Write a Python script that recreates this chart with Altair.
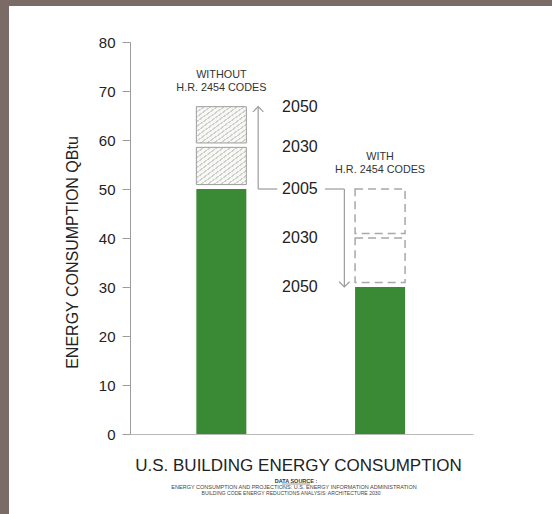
import altair as alt
import pandas as pd

# ---- data ----
scenarios = ["WITHOUT\nH.R. 2454 CODES", "WITH\nH.R. 2454 CODES"]
years = ["2005", "2030", "2050"]
without_codes = [50, 58.5, 66.8]   # QBtu
with_codes = [50, 40, 30]          # QBtu
title_text = "U.S. BUILDING ENERGY CONSUMPTION"
source_head = "DATA SOURCE :"
source_lines = [
    "ENERGY CONSUMPTION AND PROJECTIONS: U.S. ENERGY INFORMATION ADMINISTRATION",
    "BUILDING CODE ENERGY REDUCTIONS ANALYSIS: ARCHITECTURE 2030",
]

# ---- layout / style constants ----
W, H = 343, 392
GAP = 0.9
GREEN = "#3a8a35"
GREY = "#9c9c9c"
FONT = "Liberation Sans"
BAR_POS = [1, 2]
ARROW1_X, LABEL_X, ARROW2_X = 1.232, 1.495, 1.775
SEG_L_END, SEG_R_START = 1.353, 1.653

xs = alt.Scale(domain=[0.456, 2.554], nice=False, zero=False)
ys = alt.Scale(domain=[0, 80], nice=False)

# green (current / achieved) bars
green = pd.DataFrame({
    "pos": BAR_POS,
    "lo": [0, 0],
    "hi": [without_codes[0], with_codes[-1]],
})
# hatched growth boxes (without codes)
hatch = pd.DataFrame({
    "pos": [BAR_POS[0]] * 2,
    "lo": [without_codes[i - 1] + GAP for i in (1, 2)],
    "hi": [without_codes[i] for i in (1, 2)],
})
# dashed saved boxes (with codes)
dashed = pd.DataFrame({
    "pos": [BAR_POS[1]] * 2,
    "lo": [with_codes[i] + GAP for i in (1, 2)],
    "hi": [with_codes[i - 1] for i in (1, 2)],
})

# hatch pattern emulated with a striped linear gradient
N = 15
stops = []
for i in range(N):
    a = i / N
    b = (i + 0.3) / N
    c = (i + 1) / N
    stops += [
        alt.GradientStop(color="#cdd0c8", offset=a),
        alt.GradientStop(color="#cdd0c8", offset=b),
        alt.GradientStop(color="#f7f8f5", offset=b),
        alt.GradientStop(color="#f7f8f5", offset=c),
    ]
hatch_fill = alt.LinearGradient(gradient="linear", stops=stops, x1=0, y1=0, x2=1, y2=1)

frame = alt.Chart(pd.DataFrame({"a": [0]})).mark_rect(color="white", clip=False).encode(
    x=alt.value(-121), x2=alt.value(W + 79), y=alt.value(-36), y2=alt.value(H + 80)
)

base_axis_y = alt.Axis(
    values=list(range(0, 81, 10)), title="ENERGY CONSUMPTION QBtu",
    labelFontSize=15, labelColor="#222", labelFont=FONT, labelPadding=7,
    tickSize=8, tickColor=GREY, domainColor=GREY, grid=False, zindex=1,
    titleFontSize=16, titleFont=FONT, titleFontWeight="normal", titleColor="#222",
    titleAngle=270, titleX=-58, titleY=210, titleAlign="center", titleBaseline="middle",
)
base_axis_x = alt.Axis(labels=False, ticks=False, domain=True, domainColor="#b8b8b8",
                       grid=False, title=None, zindex=1)

green_bars = alt.Chart(green).mark_bar(size=50, color=GREEN).encode(
    x=alt.X("pos:Q", scale=xs, axis=base_axis_x),
    y=alt.Y("lo:Q", scale=ys, axis=base_axis_y),
    y2="hi:Q",
)
hatch_bars = alt.Chart(hatch).mark_bar(size=50, fill=hatch_fill, stroke=GREY, strokeWidth=1).encode(
    x=alt.X("pos:Q", scale=xs), y=alt.Y("lo:Q", scale=ys), y2="hi:Q"
)
dashed_bars = alt.Chart(dashed).mark_bar(
    size=50, fill="white", stroke="#a8a8a8", strokeWidth=1.5, strokeDash=[8, 5]
).encode(x=alt.X("pos:Q", scale=xs), y=alt.Y("lo:Q", scale=ys), y2="hi:Q")

# arrows
segs = pd.DataFrame({
    "x": [ARROW1_X, ARROW1_X, SEG_R_START, ARROW2_X],
    "x2": [ARROW1_X, SEG_L_END, ARROW2_X, ARROW2_X],
    "y": [without_codes[0], without_codes[0], with_codes[0], with_codes[0]],
    "y2": [without_codes[-1], without_codes[0], with_codes[0], with_codes[-1]],
})
arrow_lines = alt.Chart(segs).mark_rule(color=GREY, strokeWidth=1.2).encode(
    x=alt.X("x:Q", scale=xs), x2="x2:Q", y=alt.Y("y:Q", scale=ys), y2="y2:Q"
)
up_head = alt.Chart(pd.DataFrame({"x": [ARROW1_X], "y": [without_codes[-1]]})).mark_point(
    shape="M-1,1L0,0L1,1", filled=False, size=110, color=GREY, strokeWidth=1.2, opacity=1
).encode(x=alt.X("x:Q", scale=xs), y=alt.Y("y:Q", scale=ys))
down_head = alt.Chart(pd.DataFrame({"x": [ARROW2_X], "y": [with_codes[-1]]})).mark_point(
    shape="M-1,-1L0,0L1,-1", filled=False, size=110, color=GREY, strokeWidth=1.2, opacity=1
).encode(x=alt.X("x:Q", scale=xs), y=alt.Y("y:Q", scale=ys))

# year labels
lab = pd.DataFrame({
    "year": years[::-1] + years[1:],
    "v": without_codes[::-1] + with_codes[1:],
})
lab["x"] = LABEL_X
year_text = alt.Chart(lab).mark_text(font=FONT, fontSize=16, color="#222", baseline="middle").encode(
    x=alt.X("x:Q", scale=xs), y=alt.Y("v:Q", scale=ys), text="year:N"
)

# scenario labels
sc = pd.DataFrame({"pos": BAR_POS, "name": scenarios, "top": [without_codes[-1], with_codes[0]]})
scen_text = alt.Chart(sc).mark_text(
    font=FONT, fontSize=10.8, color="#333", lineBreak="\n", baseline="bottom", dy=-27, lineHeight=13
).encode(x=alt.X("pos:Q", scale=xs), y=alt.Y("top:Q", scale=ys), text="name:N")

# title and source
one = pd.DataFrame({"a": [0]})
title_mark = alt.Chart(one).mark_text(
    font=FONT, fontSize=17, color="#222", baseline="middle", text=title_text, clip=False
).encode(x=alt.value(168.5), y=alt.value(H + 32))
head_mark = alt.Chart(one).mark_text(
    font=FONT, fontSize=5.5, fontWeight="bold", color="#333", baseline="middle", text=source_head
).encode(x=alt.value(166), y=alt.value(H + 47))
head_line = alt.Chart(one).mark_rule(color="#555", strokeWidth=0.6).encode(
    x=alt.value(152), x2=alt.value(180), y=alt.value(H + 50)
)
src1 = alt.Chart(one).mark_text(
    font=FONT, fontSize=5.5, color="#444", baseline="middle", text=source_lines[0]
).encode(x=alt.value(164), y=alt.value(H + 53))
src2 = alt.Chart(one).mark_text(
    font=FONT, fontSize=5.1, color="#444", baseline="middle", text=source_lines[1]
).encode(x=alt.value(161), y=alt.value(H + 59))

chart = alt.layer(
    frame, green_bars, hatch_bars, dashed_bars, arrow_lines, up_head, down_head,
    year_text, scen_text, title_mark, head_mark, head_line, src1, src2
).properties(
    width=W, height=H,
    padding={"left": 130, "top": 42, "right": 79, "bottom": 80},
    autosize=alt.AutoSizeParams(type="none"),
    background="#7a6b66",
).configure_view(stroke=None)

chart.save("out.html", embed_options={"renderer": "svg", "actions": False})
